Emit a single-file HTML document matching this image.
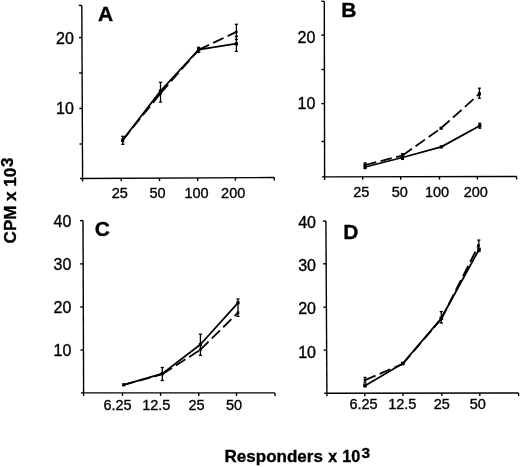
<!DOCTYPE html>
<html><head><meta charset="utf-8"><title>Figure</title>
<style>
html,body{margin:0;padding:0;background:#fff;}
body{width:520px;height:467px;overflow:hidden;}
svg{display:block;}
svg text{font-family:"Liberation Sans", Arial, Helvetica, sans-serif;fill:#000;stroke:#000;stroke-width:0.35px;}
</style></head><body>
<svg width="520" height="467" viewBox="0 0 520 467" stroke="#000" stroke-linecap="butt">
<line x1="81.8" y1="5.4" x2="82.6" y2="178.5" stroke-width="1.4" />
<line x1="78.8" y1="5.4" x2="81.8" y2="5.4" stroke-width="1.4" />
<line x1="78.95" y1="37.6" x2="81.95" y2="37.6" stroke-width="1.4" />
<line x1="79.11" y1="73.0" x2="82.11" y2="73.0" stroke-width="1.4" />
<line x1="79.28" y1="108.4" x2="82.28" y2="108.4" stroke-width="1.4" />
<line x1="79.44" y1="144.0" x2="82.44" y2="144.0" stroke-width="1.4" />
<text x="73.9" y="43.5" font-size="16" text-anchor="end" font-weight="normal" >20</text>
<text x="73.9" y="114.0" font-size="16" text-anchor="end" font-weight="normal" >10</text>
<line x1="80.0" y1="178.5" x2="274.3" y2="177.5" stroke-width="1.4" />
<line x1="121.2" y1="178.3" x2="121.2" y2="181.3" stroke-width="1.4" />
<line x1="159.5" y1="178.1" x2="159.5" y2="181.1" stroke-width="1.4" />
<line x1="197.7" y1="177.9" x2="197.7" y2="180.9" stroke-width="1.4" />
<line x1="235.4" y1="177.7" x2="235.4" y2="180.7" stroke-width="1.4" />
<line x1="274.3" y1="177.5" x2="274.3" y2="180.5" stroke-width="1.4" />
<line x1="82.6" y1="178.5" x2="82.6" y2="181.5" stroke-width="1.4" />
<text x="119.8" y="197.6" font-size="14.5" text-anchor="middle" font-weight="normal" >25</text>
<text x="157.6" y="197.6" font-size="14.5" text-anchor="middle" font-weight="normal" >50</text>
<text x="196.6" y="197.6" font-size="14.5" text-anchor="middle" font-weight="normal" >100</text>
<text x="233.2" y="197.6" font-size="14.5" text-anchor="middle" font-weight="normal" >200</text>
<text x="98.1" y="20.6" font-size="21" text-anchor="start" font-weight="bold" >A</text>
<polyline points="122.7,140 160.5,91 198.7,49.6 236.4,43.7" fill="none" stroke-width="1.8" stroke-linejoin="round"/>
<line x1="122.7" y1="140.2" x2="160.5" y2="93.3" stroke-width="1.8" stroke-dasharray="11.5 4.5"/>
<line x1="160.5" y1="93.3" x2="198.7" y2="49.8" stroke-width="1.8" stroke-dasharray="11.5 4.5"/>
<line x1="198.7" y1="49.8" x2="236.4" y2="31.9" stroke-width="1.8" stroke-dasharray="11.5 4.5"/>
<line x1="122.8" y1="136.3" x2="122.8" y2="144.4" stroke-width="1.3" />
<line x1="121.2" y1="136.3" x2="124.4" y2="136.3" stroke-width="1.3" />
<line x1="121.2" y1="144.4" x2="124.4" y2="144.4" stroke-width="1.3" />
<line x1="160.5" y1="82.3" x2="160.5" y2="102.1" stroke-width="1.3" />
<line x1="158.9" y1="82.3" x2="162.1" y2="82.3" stroke-width="1.3" />
<line x1="158.9" y1="102.1" x2="162.1" y2="102.1" stroke-width="1.3" />
<line x1="198.7" y1="47.3" x2="198.7" y2="52.3" stroke-width="1.3" />
<line x1="197.1" y1="47.3" x2="200.3" y2="47.3" stroke-width="1.3" />
<line x1="197.1" y1="52.3" x2="200.3" y2="52.3" stroke-width="1.3" />
<line x1="236.4" y1="24.3" x2="236.4" y2="39.5" stroke-width="1.3" />
<line x1="234.8" y1="24.3" x2="238.0" y2="24.3" stroke-width="1.3" />
<line x1="234.8" y1="39.5" x2="238.0" y2="39.5" stroke-width="1.3" />
<line x1="236.4" y1="36.4" x2="236.4" y2="51.4" stroke-width="1.3" />
<line x1="234.8" y1="36.4" x2="238.0" y2="36.4" stroke-width="1.3" />
<line x1="234.8" y1="51.4" x2="238.0" y2="51.4" stroke-width="1.3" />
<rect x="121.1" y="138.4" width="3.2" height="3.2" fill="#000" stroke="none"/>
<rect x="158.9" y="89.4" width="3.2" height="3.2" fill="#000" stroke="none"/>
<rect x="197.1" y="48.0" width="3.2" height="3.2" fill="#000" stroke="none"/>
<rect x="234.8" y="42.1" width="3.2" height="3.2" fill="#000" stroke="none"/>
<rect x="121.5" y="139.8" width="2.4" height="2.4" fill="#000" stroke="none"/>
<rect x="159.3" y="92.3" width="2.4" height="2.4" fill="#000" stroke="none"/>
<rect x="235.2" y="30.7" width="2.4" height="2.4" fill="#000" stroke="none"/>
<line x1="324.3" y1="1.3" x2="324.6" y2="177.0" stroke-width="1.4" />
<line x1="321.3" y1="1.3" x2="324.3" y2="1.3" stroke-width="1.4" />
<line x1="321.36" y1="35.2" x2="324.36" y2="35.2" stroke-width="1.4" />
<line x1="321.42" y1="69.5" x2="324.42" y2="69.5" stroke-width="1.4" />
<line x1="321.47" y1="103.6" x2="324.47" y2="103.6" stroke-width="1.4" />
<line x1="321.54" y1="141.5" x2="324.54" y2="141.5" stroke-width="1.4" />
<text x="315.3" y="42.6" font-size="16" text-anchor="end" font-weight="normal" >20</text>
<text x="315.3" y="108.5" font-size="16" text-anchor="end" font-weight="normal" >10</text>
<line x1="322.0" y1="176.9" x2="516.6" y2="176.5" stroke-width="1.4" />
<line x1="362.7" y1="176.82" x2="362.7" y2="179.82" stroke-width="1.4" />
<line x1="400.7" y1="176.74" x2="400.7" y2="179.74" stroke-width="1.4" />
<line x1="439.5" y1="176.66" x2="439.5" y2="179.66" stroke-width="1.4" />
<line x1="477.4" y1="176.58" x2="477.4" y2="179.58" stroke-width="1.4" />
<line x1="516.6" y1="176.5" x2="516.6" y2="179.5" stroke-width="1.4" />
<line x1="324.6" y1="176.9" x2="324.6" y2="179.9" stroke-width="1.4" />
<text x="361.2" y="196.9" font-size="14.5" text-anchor="middle" font-weight="normal" >25</text>
<text x="399.7" y="196.9" font-size="14.5" text-anchor="middle" font-weight="normal" >50</text>
<text x="437.1" y="196.9" font-size="14.5" text-anchor="middle" font-weight="normal" >100</text>
<text x="475.8" y="196.9" font-size="14.5" text-anchor="middle" font-weight="normal" >200</text>
<text x="341.3" y="16.9" font-size="21" text-anchor="start" font-weight="bold" >B</text>
<polyline points="365.1,167 402.5,157.5 441.3,146.9 479.8,125.7" fill="none" stroke-width="1.8" stroke-linejoin="round"/>
<line x1="365.1" y1="165" x2="402.5" y2="155.5" stroke-width="1.8" stroke-dasharray="11.5 4.5"/>
<line x1="402.5" y1="155.5" x2="441.1" y2="128.2" stroke-width="1.8" stroke-dasharray="11.5 4.5"/>
<line x1="441.1" y1="128.2" x2="479.4" y2="93.9" stroke-width="1.8" stroke-dasharray="11.5 4.5"/>
<line x1="365.1" y1="162.9" x2="365.1" y2="168.6" stroke-width="1.3" />
<line x1="363.6" y1="162.9" x2="366.6" y2="162.9" stroke-width="1.3" />
<line x1="363.6" y1="168.6" x2="366.6" y2="168.6" stroke-width="1.3" />
<line x1="402.5" y1="153.7" x2="402.5" y2="159.4" stroke-width="1.3" />
<line x1="401.0" y1="153.7" x2="404.0" y2="153.7" stroke-width="1.3" />
<line x1="401.0" y1="159.4" x2="404.0" y2="159.4" stroke-width="1.3" />
<line x1="479.8" y1="123.3" x2="479.8" y2="128.2" stroke-width="1.3" />
<line x1="478.3" y1="123.3" x2="481.3" y2="123.3" stroke-width="1.3" />
<line x1="478.3" y1="128.2" x2="481.3" y2="128.2" stroke-width="1.3" />
<line x1="479.4" y1="88.2" x2="479.4" y2="98.2" stroke-width="1.3" />
<line x1="477.9" y1="88.2" x2="480.9" y2="88.2" stroke-width="1.3" />
<line x1="477.9" y1="98.2" x2="480.9" y2="98.2" stroke-width="1.3" />
<rect x="363.5" y="165.4" width="3.2" height="3.2" fill="#000" stroke="none"/>
<rect x="400.9" y="155.9" width="3.2" height="3.2" fill="#000" stroke="none"/>
<rect x="439.7" y="145.3" width="3.2" height="3.2" fill="#000" stroke="none"/>
<rect x="478.2" y="124.1" width="3.2" height="3.2" fill="#000" stroke="none"/>
<rect x="363.5" y="163.4" width="3.2" height="3.2" fill="#000" stroke="none"/>
<rect x="400.9" y="153.9" width="3.2" height="3.2" fill="#000" stroke="none"/>
<rect x="439.5" y="126.6" width="3.2" height="3.2" fill="#000" stroke="none"/>
<rect x="477.8" y="92.3" width="3.2" height="3.2" fill="#000" stroke="none"/>
<line x1="83.0" y1="220.6" x2="83.6" y2="393.1" stroke-width="1.4" />
<line x1="80.0" y1="220.6" x2="83.0" y2="220.6" stroke-width="1.4" />
<line x1="80.15" y1="263.9" x2="83.15" y2="263.9" stroke-width="1.4" />
<line x1="80.3" y1="307.0" x2="83.3" y2="307.0" stroke-width="1.4" />
<line x1="80.45" y1="350.1" x2="83.45" y2="350.1" stroke-width="1.4" />
<text x="71.3" y="226.6" font-size="16" text-anchor="end" font-weight="normal" >40</text>
<text x="71.3" y="269.6" font-size="16" text-anchor="end" font-weight="normal" >30</text>
<text x="71.3" y="312.7" font-size="16" text-anchor="end" font-weight="normal" >20</text>
<text x="71.3" y="356.4" font-size="16" text-anchor="end" font-weight="normal" >10</text>
<line x1="81.0" y1="392.9" x2="275.0" y2="392.9" stroke-width="1.4" />
<line x1="122.5" y1="392.9" x2="122.5" y2="395.9" stroke-width="1.4" />
<line x1="160.6" y1="392.9" x2="160.6" y2="395.9" stroke-width="1.4" />
<line x1="198.8" y1="392.9" x2="198.8" y2="395.9" stroke-width="1.4" />
<line x1="236.5" y1="392.9" x2="236.5" y2="395.9" stroke-width="1.4" />
<line x1="275.0" y1="392.9" x2="275.0" y2="395.9" stroke-width="1.4" />
<line x1="83.6" y1="392.9" x2="83.6" y2="395.9" stroke-width="1.4" />
<text x="117.5" y="410.3" font-size="14.5" text-anchor="middle" font-weight="normal" >6.25</text>
<text x="156.3" y="410.3" font-size="14.5" text-anchor="middle" font-weight="normal" >12.5</text>
<text x="196.6" y="410.3" font-size="14.5" text-anchor="middle" font-weight="normal" >25</text>
<text x="234.1" y="410.3" font-size="14.5" text-anchor="middle" font-weight="normal" >50</text>
<text x="94.7" y="236.4" font-size="21" text-anchor="start" font-weight="bold" >C</text>
<polyline points="123.7,384.8 162.3,373.6 200.4,344.5 238,302.8" fill="none" stroke-width="1.8" stroke-linejoin="round"/>
<line x1="123.7" y1="384.8" x2="162.3" y2="374.2" stroke-width="1.8" stroke-dasharray="11.5 4.5"/>
<line x1="162.3" y1="374.2" x2="200.4" y2="349.7" stroke-width="1.8" stroke-dasharray="11.5 4.5"/>
<line x1="200.4" y1="349.7" x2="238" y2="312.7" stroke-width="1.8" stroke-dasharray="11.5 4.5"/>
<line x1="162.3" y1="367.5" x2="162.3" y2="380.5" stroke-width="1.3" />
<line x1="160.7" y1="367.5" x2="163.9" y2="367.5" stroke-width="1.3" />
<line x1="160.7" y1="380.5" x2="163.9" y2="380.5" stroke-width="1.3" />
<line x1="200.4" y1="334.2" x2="200.4" y2="355.4" stroke-width="1.3" />
<line x1="198.8" y1="334.2" x2="202.0" y2="334.2" stroke-width="1.3" />
<line x1="198.8" y1="355.4" x2="202.0" y2="355.4" stroke-width="1.3" />
<line x1="238" y1="299" x2="238" y2="316.4" stroke-width="1.3" />
<line x1="236.4" y1="299" x2="239.6" y2="299" stroke-width="1.3" />
<line x1="236.4" y1="316.4" x2="239.6" y2="316.4" stroke-width="1.3" />
<rect x="122.1" y="383.2" width="3.2" height="3.2" fill="#000" stroke="none"/>
<rect x="160.7" y="372.0" width="3.2" height="3.2" fill="#000" stroke="none"/>
<rect x="198.8" y="342.9" width="3.2" height="3.2" fill="#000" stroke="none"/>
<rect x="236.4" y="301.2" width="3.2" height="3.2" fill="#000" stroke="none"/>
<rect x="199.1" y="348.4" width="2.6" height="2.6" fill="#000" stroke="none"/>
<rect x="236.7" y="311.4" width="2.6" height="2.6" fill="#000" stroke="none"/>
<line x1="325.9" y1="221.1" x2="326.9" y2="393.2" stroke-width="1.4" />
<line x1="322.9" y1="221.1" x2="325.9" y2="221.1" stroke-width="1.4" />
<line x1="323.15" y1="263.8" x2="326.15" y2="263.8" stroke-width="1.4" />
<line x1="323.4" y1="307.2" x2="326.4" y2="307.2" stroke-width="1.4" />
<line x1="323.65" y1="350.1" x2="326.65" y2="350.1" stroke-width="1.4" />
<text x="316.0" y="228.3" font-size="16" text-anchor="end" font-weight="normal" >40</text>
<text x="316.0" y="271.4" font-size="16" text-anchor="end" font-weight="normal" >30</text>
<text x="316.0" y="313.8" font-size="16" text-anchor="end" font-weight="normal" >20</text>
<text x="316.0" y="357.6" font-size="16" text-anchor="end" font-weight="normal" >10</text>
<line x1="324.3" y1="393.2" x2="518.6" y2="393.0" stroke-width="1.4" />
<line x1="364.8" y1="393.16" x2="364.8" y2="396.16" stroke-width="1.4" />
<line x1="403.0" y1="393.12" x2="403.0" y2="396.12" stroke-width="1.4" />
<line x1="441.8" y1="393.08" x2="441.8" y2="396.08" stroke-width="1.4" />
<line x1="479.8" y1="393.04" x2="479.8" y2="396.04" stroke-width="1.4" />
<line x1="518.6" y1="393.0" x2="518.6" y2="396.0" stroke-width="1.4" />
<line x1="326.9" y1="393.2" x2="326.9" y2="396.2" stroke-width="1.4" />
<text x="363.5" y="409.0" font-size="14.5" text-anchor="middle" font-weight="normal" >6.25</text>
<text x="402.3" y="409.0" font-size="14.5" text-anchor="middle" font-weight="normal" >12.5</text>
<text x="441.8" y="409.0" font-size="14.5" text-anchor="middle" font-weight="normal" >25</text>
<text x="477.7" y="409.0" font-size="14.5" text-anchor="middle" font-weight="normal" >50</text>
<text x="343.3" y="238.6" font-size="21" text-anchor="start" font-weight="bold" >D</text>
<polyline points="365,385.7 402.8,363.5 441.3,318.3 479,249.5" fill="none" stroke-width="1.8" stroke-linejoin="round"/>
<line x1="365" y1="380.2" x2="402.8" y2="363.8" stroke-width="1.8" stroke-dasharray="11.5 4.5"/>
<line x1="402.8" y1="363.8" x2="441.3" y2="319.0" stroke-width="1.8" stroke-dasharray="11.5 4.5"/>
<line x1="441.3" y1="319.0" x2="478.5" y2="245.5" stroke-width="1.8" stroke-dasharray="11.5 4.5"/>
<line x1="365" y1="377.4" x2="365" y2="383" stroke-width="1.3" />
<line x1="363.4" y1="377.4" x2="366.6" y2="377.4" stroke-width="1.3" />
<line x1="363.4" y1="383" x2="366.6" y2="383" stroke-width="1.3" />
<line x1="441.3" y1="311.6" x2="441.3" y2="323" stroke-width="1.3" />
<line x1="439.7" y1="311.6" x2="442.9" y2="311.6" stroke-width="1.3" />
<line x1="439.7" y1="323" x2="442.9" y2="323" stroke-width="1.3" />
<line x1="478.8" y1="240.1" x2="478.8" y2="251.5" stroke-width="1.3" />
<line x1="477.2" y1="240.1" x2="480.4" y2="240.1" stroke-width="1.3" />
<line x1="477.2" y1="251.5" x2="480.4" y2="251.5" stroke-width="1.3" />
<rect x="363.2" y="383.9" width="3.6" height="3.6" fill="#000" stroke="none"/>
<rect x="401.0" y="361.7" width="3.6" height="3.6" fill="#000" stroke="none"/>
<rect x="439.5" y="316.5" width="3.6" height="3.6" fill="#000" stroke="none"/>
<rect x="477.2" y="247.7" width="3.6" height="3.6" fill="#000" stroke="none"/>
<rect x="363.7" y="378.9" width="2.6" height="2.6" fill="#000" stroke="none"/>
<rect x="477.2" y="244.2" width="2.6" height="2.6" fill="#000" stroke="none"/>
<g transform="translate(16.2,243.4) rotate(-90)"><text x="0" y="0" font-size="17" font-weight="bold">CPM x 10</text><text x="76.4" y="-3.0" font-size="17" font-weight="bold">3</text></g>
<text x="224.6" y="462.2" font-size="17" font-weight="bold">Responders</text>
<text x="328.2" y="462.2" font-size="16" font-weight="bold">x</text>
<text x="342.2" y="462.2" font-size="16.2" font-weight="bold">10</text>
<text x="361.4" y="458.2" font-size="15.5" font-weight="bold">3</text>
</svg>
</body></html>
